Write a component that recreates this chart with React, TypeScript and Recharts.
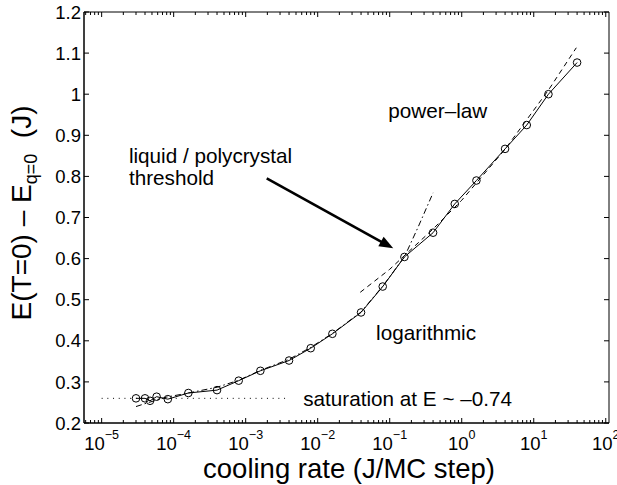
import React from 'react';
import { ComposedChart, Line, XAxis, YAxis, ReferenceArea, ReferenceLine, ReferenceDot } from 'recharts';

// measured data: cooling rate (J/MC step) vs E(T=0) - E_q=0 (J)
const coolingRate = [3e-5, 4e-5, 4.7e-5, 5.8e-5, 8.3e-5, 1.6e-4, 4e-4, 8e-4, 1.6e-3, 4e-3, 8e-3, 1.6e-2, 4e-2, 8e-2, 0.16, 0.4, 0.8, 1.6, 4, 8, 16, 40];
const energy = [0.26, 0.26, 0.254, 0.264, 0.258, 0.273, 0.28, 0.303, 0.327, 0.352, 0.382, 0.417, 0.469, 0.532, 0.604, 0.663, 0.733, 0.79, 0.867, 0.925, 1.0, 1.077];

// power-law fit (dashed)
const powerRate = [0.039, 0.1, 0.4, 1, 4, 16, 39];
const powerFit = [0.518, 0.574, 0.672, 0.742, 0.866, 1.01, 1.113];

// logarithmic fit (dash-dot)
const logRate = [3e-5, 4.5e-5, 8e-5, 1.6e-4, 4e-4, 8e-4, 1.6e-3, 4e-3, 8e-3, 1.6e-2, 4e-2, 8e-2, 0.16, 0.25, 0.4];
const logFit = [0.24, 0.25, 0.263, 0.273, 0.287, 0.304, 0.328, 0.355, 0.384, 0.418, 0.47, 0.533, 0.604, 0.678, 0.76];

// saturation level (dotted)
const satRate = [1e-5, 4e-3];
const satLevel = [0.26, 0.26];

const yTicks = [0.2, 0.3, 0.4, 0.5, 0.6, 0.7, 0.8, 0.9, 1.0, 1.1, 1.2];

const X_MIN = Math.pow(10, -5.245);
const X_MAX = Math.pow(10, 2.045);

const PLOT_LEFT = 84;
const PLOT_RIGHT = 609;
const PLOT_TOP = 12;
const PLOT_BOTTOM = 423;

const FONT = "'Liberation Sans', Arial, Helvetica, sans-serif";

const zip = (xs: number[], ys: number[]) => xs.map((x, i) => ({ x, y: ys[i] }));
const measured = zip(coolingRate, energy);
const powerLine = zip(powerRate, powerFit);
const logLine = zip(logRate, logFit);
const satLine = zip(satRate, satLevel);

// major + minor log ticks inside the domain
const xTicks: number[] = [];
for (let k = -6; k <= 2; k++) {
  for (let m = 1; m <= 9; m++) {
    const v = m * Math.pow(10, k);
    if (v >= X_MIN && v <= X_MAX) xTicks.push(v);
  }
}

const XTick = (props: any) => {
  const { x, payload } = props;
  const v = payload.value;
  const lg = Math.log10(v);
  const exp = Math.round(lg);
  const major = Math.abs(lg - exp) < 1e-6;
  const len = major ? 5 : 3;
  return (
    <g>
      <line x1={x} x2={x} y1={PLOT_BOTTOM} y2={PLOT_BOTTOM - len} stroke="#000" />
      <line x1={x} x2={x} y1={PLOT_TOP} y2={PLOT_TOP + len} stroke="#000" />
      {major && (
        <text x={x} y={PLOT_BOTTOM + 26.5} textAnchor="middle" fontFamily={FONT} fill="#000">
          <tspan fontSize={18.5}>10</tspan>
          <tspan fontSize={12.5} dy={-11}>{exp < 0 ? '\u2212' + -exp : String(exp)}</tspan>
        </text>
      )}
    </g>
  );
};

const YTick = (props: any) => {
  const { y, payload } = props;
  const label = payload.value.toFixed(1).replace(/\.0$/, '');
  return (
    <g>
      <line x1={PLOT_LEFT} x2={PLOT_LEFT + 5} y1={y} y2={y} stroke="#000" />
      <line x1={PLOT_RIGHT - 5} x2={PLOT_RIGHT} y1={y} y2={y} stroke="#000" />
      <text x={PLOT_LEFT - 3} y={y} dy="0.36em" textAnchor="end" fontSize={18.5} fontFamily={FONT} fill="#000">
        {label}
      </text>
    </g>
  );
};

const Arrow = (props: any) => {
  const { x1, y1, x2, y2 } = props;
  const dx = x2 - x1;
  const dy = y2 - y1;
  const d = Math.sqrt(dx * dx + dy * dy);
  const ux = dx / d;
  const uy = dy / d;
  const head = 14;
  const half = 5.5;
  const bx = x2 - ux * head;
  const by = y2 - uy * head;
  return (
    <g>
      <line x1={x1} y1={y1} x2={bx + ux} y2={by + uy} stroke="#000" strokeWidth={2.6} />
      <polygon
        points={`${x2},${y2} ${bx - uy * half},${by + ux * half} ${bx + uy * half},${by - ux * half}`}
        fill="#000"
      />
    </g>
  );
};

const note = (lines: string[]) => (props: any) => (
  <text x={props.cx} y={props.cy} fontSize={20.7} fontFamily={FONT} fill="#000">
    {lines.map((t, i) => (
      <tspan key={i} x={props.cx} dy={i === 0 ? 0 : 22}>
        {t}
      </tspan>
    ))}
  </text>
);

const XLabel = () => (
  <text x={349} y={478} textAnchor="middle" fontSize={27.5} fontFamily={FONT} fill="#000">
    cooling rate (J/MC step)
  </text>
);

const YLabel = () => (
  <text
    x={0}
    y={0}
    transform="translate(31,213) rotate(-90)"
    textAnchor="middle"
    fontSize={28}
    fontFamily={FONT}
    fill="#000"
  >
    <tspan>E(T=0) {'\u2013'} E</tspan>
    <tspan fontSize={18} dy={6}>q=0</tspan>
    <tspan dy={-6}>{'\u00a0\u00a0'}(J)</tspan>
  </text>
);

const App: React.FC = () => {
  return (
    <div style={{ position: 'absolute', left: 0, top: 0, background: '#fff' }}>
      <ComposedChart width={617} height={485} margin={{ top: PLOT_TOP, right: 617 - PLOT_RIGHT, bottom: 0, left: 0 }}>
        <XAxis
          dataKey="x"
          type="number"
          scale="log"
          domain={[X_MIN, X_MAX]}
          allowDataOverflow
          ticks={xTicks}
          interval={0}
          tickSize={0}
          tickMargin={0}
          tickLine={false}
          tick={<XTick />}
          axisLine={{ stroke: '#000' }}
          height={485 - PLOT_BOTTOM}
          label={<XLabel />}
        />
        <YAxis
          type="number"
          domain={[0.2, 1.2]}
          allowDataOverflow
          ticks={yTicks}
          interval={0}
          tickSize={0}
          tickMargin={3}
          tickLine={false}
          tick={<YTick />}
          axisLine={{ stroke: '#000' }}
          width={PLOT_LEFT}
          label={<YLabel />}
        />
        <ReferenceArea x1={X_MIN} x2={X_MAX} y1={0.2} y2={1.2} fill="none" stroke="#000" strokeWidth={1} ifOverflow="visible" />
        <Line
          data={satLine}
          dataKey="y"
          type="linear"
          stroke="#000"
          strokeWidth={1}
          strokeDasharray="1 4.7"
          dot={false}
          isAnimationActive={false}
        />
        <Line
          data={logLine}
          dataKey="y"
          type="linear"
          stroke="#000"
          strokeWidth={1}
          strokeDasharray="6 3 1.5 3"
          dot={false}
          isAnimationActive={false}
        />
        <Line
          data={powerLine}
          dataKey="y"
          type="linear"
          stroke="#000"
          strokeWidth={1}
          strokeDasharray="5 4"
          dot={false}
          isAnimationActive={false}
        />
        <Line
          data={measured}
          dataKey="y"
          type="linear"
          stroke="#000"
          strokeWidth={1}
          dot={{ r: 3.8, fill: 'none', stroke: '#000', strokeWidth: 1 }}
          isAnimationActive={false}
        />
        <ReferenceLine
          segment={[{ x: 1.96e-3, y: 0.795 }, { x: 0.112, y: 0.625 }]}
          stroke="#000"
          ifOverflow="visible"
          shape={Arrow}
        />
        <ReferenceDot x={2.39e-5} y={0.832} r={0} ifOverflow="visible" shape={note(['liquid / polycrystal', 'threshold'])} />
        <ReferenceDot x={0.0957} y={0.942} r={0} ifOverflow="visible" shape={note(['power\u2013law'])} />
        <ReferenceDot x={0.0646} y={0.402} r={0} ifOverflow="visible" shape={note(['logarithmic'])} />
        <ReferenceDot x={0.0063} y={0.2423} r={0} ifOverflow="visible" shape={note(['saturation at E ~ \u20130.74'])} />
      </ComposedChart>
    </div>
  );
};

export default App;
